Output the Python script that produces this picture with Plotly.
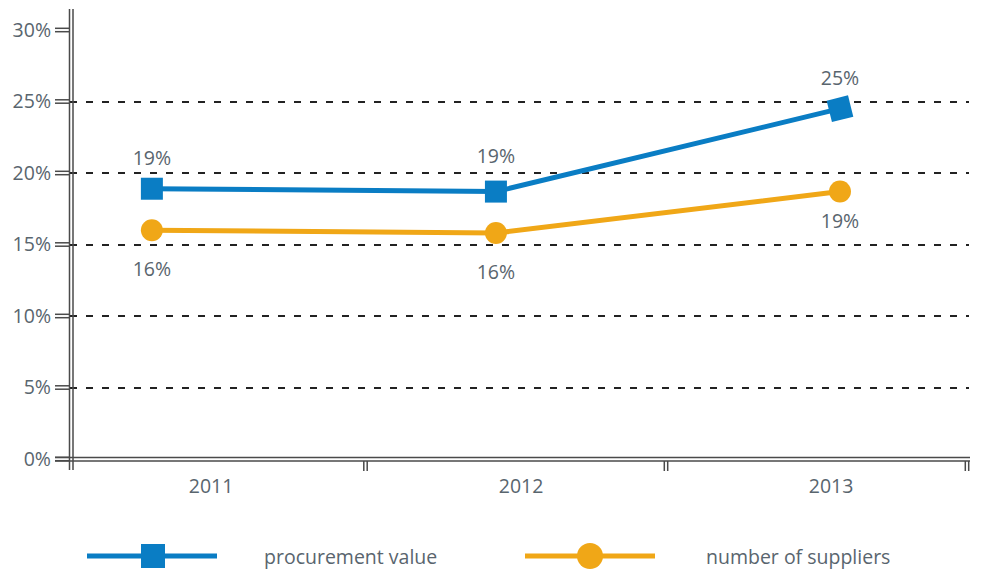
import plotly.graph_objects as go

years = [2011, 2012, 2013]
procurement_value = [18.9, 18.7, 24.5]
number_of_suppliers = [16.0, 15.8, 18.7]
procurement_labels = ["19%", "19%", "25%"]
suppliers_labels = ["16%", "16%", "19%"]
y_ticks = [0, 5, 10, 15, 20, 25, 30]
y_tick_labels = ["0%", "5%", "10%", "15%", "20%", "25%", "30%"]

BLUE = "#0a7dc4"
ORANGE = "#f0a717"
TEXT = "#59656e"
AXIS = "#4a4a4a"
FONT = "Open Sans"
FS = 19.5

W, H = 982, 569
L, R, T, B = 70, 969, 30, 459


def px(x):
    return (x - L) / (R - L)


def py(y):
    return (B - y) / (B - T)


fig = go.Figure()

# lines
fig.add_trace(go.Scatter(
    x=years, y=procurement_value, mode="lines+markers",
    line=dict(color=BLUE, width=5),
    marker=dict(symbol="square", size=22, color=BLUE, angle=[0, 0, -14]),
    name="procurement value", showlegend=False, cliponaxis=False,
))
fig.add_trace(go.Scatter(
    x=years, y=number_of_suppliers, mode="lines+markers",
    line=dict(color=ORANGE, width=5),
    marker=dict(symbol="circle", size=22, color=ORANGE),
    name="number of suppliers", showlegend=False, cliponaxis=False,
))
# value labels (invisible markers set label offset)
fig.add_trace(go.Scatter(
    x=years, y=procurement_value, mode="markers+text",
    marker=dict(size=[28, 36, 28], opacity=0),
    text=procurement_labels, textposition="top center",
    textfont=dict(family=FONT, size=FS, color=TEXT),
    showlegend=False, hoverinfo="skip", cliponaxis=False,
))
fig.add_trace(go.Scatter(
    x=years, y=number_of_suppliers, mode="markers+text",
    marker=dict(size=[48, 48, 34], opacity=0),
    text=suppliers_labels, textposition="bottom center",
    textfont=dict(family=FONT, size=FS, color=TEXT),
    showlegend=False, hoverinfo="skip", cliponaxis=False,
))
# invisible trace to activate the label axis
fig.add_trace(go.Scatter(x=years, y=[None] * 3, xaxis="x2", showlegend=False,
                         hoverinfo="skip"))

shapes = []
line_style = dict(color=AXIS, width=1.5)
# double y-axis line
for xx in (69.5, 73):
    shapes.append(dict(type="line", xref="paper", yref="paper",
                       x0=px(xx), x1=px(xx), y0=py(9), y1=py(470), line=line_style))
# double x-axis line
for yy in (457.5, 461):
    shapes.append(dict(type="line", xref="paper", yref="paper",
                       x0=px(55), x1=px(970), y0=py(yy), y1=py(yy), line=line_style))
# double x tick separators
for xs in (365.5, 666, 967):
    for off in (-1.7, 1.7):
        shapes.append(dict(type="line", xref="paper", yref="paper",
                           x0=px(xs + off), x1=px(xs + off), y0=py(461), y1=py(471),
                           line=line_style))
# double y ticks
for v in y_ticks:
    ypix = B - v / 30 * (B - T)
    for off in (-1.7, 1.7):
        shapes.append(dict(type="line", xref="paper", yref="paper",
                           x0=px(55), x1=px(70), y0=py(ypix + off), y1=py(ypix + off),
                           line=line_style))

# legend glyphs
ly = 556
shapes.append(dict(type="line", xref="paper", yref="paper", x0=px(87), x1=px(217),
                   y0=py(ly), y1=py(ly), line=dict(color=BLUE, width=5)))
shapes.append(dict(type="rect", xref="paper", yref="paper", x0=px(141), x1=px(165),
                   y0=py(ly + 12), y1=py(ly - 12), line=dict(width=0), fillcolor=BLUE))
shapes.append(dict(type="line", xref="paper", yref="paper", x0=px(525), x1=px(655),
                   y0=py(ly), y1=py(ly), line=dict(color=ORANGE, width=5)))
shapes.append(dict(type="circle", xref="paper", yref="paper", x0=px(577), x1=px(603),
                   y0=py(ly + 13), y1=py(ly - 13), line=dict(width=0), fillcolor=ORANGE))

annotations = [
    dict(text="procurement value", xref="paper", yref="paper", x=px(262), y=py(ly),
         xanchor="left", yanchor="middle", showarrow=False,
         font=dict(family=FONT, size=FS, color=TEXT)),
    dict(text="number of suppliers", xref="paper", yref="paper", x=px(704), y=py(ly),
         xanchor="left", yanchor="middle", showarrow=False,
         font=dict(family=FONT, size=FS, color=TEXT)),
]

fig.update_layout(
    width=W, height=H,
    margin=dict(l=L, r=W - R, t=T, b=H - B),
    paper_bgcolor="white", plot_bgcolor="white",
    showlegend=False,
    shapes=shapes, annotations=annotations,
    xaxis=dict(range=[2011 - 0.238, 2013 + 0.375], showgrid=False, zeroline=False,
               showticklabels=False, showline=False, ticks=""),
    xaxis2=dict(range=[2010.545, 2013.445], overlaying="x", side="bottom",
                tickvals=years, ticktext=[str(y) for y in years],
                showgrid=False, zeroline=False, showline=False, ticks="",
                ticklabelstandoff=13,
                tickfont=dict(family=FONT, size=FS, color=TEXT)),
    yaxis=dict(range=[0, 30], tickvals=y_ticks, ticktext=y_tick_labels,
               showgrid=True, gridcolor="#222222", gridwidth=2, griddash="7px,9px",
               zeroline=False, showline=False, ticks="", ticklabelstandoff=18,
               tickfont=dict(family=FONT, size=FS, color=TEXT)),
)

fig.write_html("out.html", config={"displayModeBar": False},
               post_script="document.body.style.margin='0';")
